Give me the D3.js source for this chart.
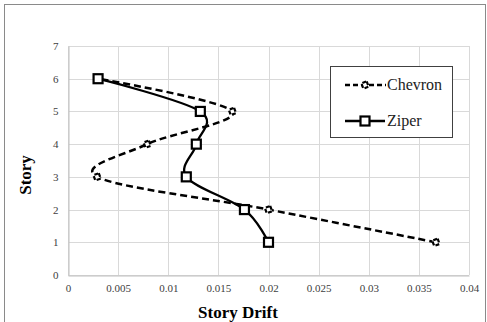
<!DOCTYPE html>
<html><head><meta charset="utf-8">
<script src="https://cdn.jsdelivr.net/npm/d3@7"></script>
<style>body{margin:0;background:#fff}svg{display:block}</style>
</head><body>
<script>
const stories = [1, 2, 3, 4, 5, 6];
const chevron = [0.0367, 0.0200, 0.0029, 0.0079, 0.0164, 0.0030];
const ziper = [0.0200, 0.0176, 0.0118, 0.0128, 0.0132, 0.0030];
const xTicks = [0, 0.005, 0.01, 0.015, 0.02, 0.025, 0.03, 0.035, 0.04];
const yTicks = [0, 1, 2, 3, 4, 5, 6, 7];
const seriesNames = ["Chevron", "Ziper"];

const W = 487, H = 322;
const svg = d3.select("body").append("svg").attr("width", W).attr("height", H);
svg.append("rect").attr("x", 4.5).attr("y", 4.5).attr("width", 481).attr("height", 330)
  .attr("fill", "#fff").attr("stroke", "#8a8a8a").attr("stroke-width", 1);

const x = d3.scaleLinear().domain([0, 0.04]).range([68, 469]);
const y = d3.scaleLinear().domain([0, 7]).range([275, 46]);
const font = "'Liberation Serif', 'Times New Roman', serif";

// grid
svg.append("g").selectAll("line").data(xTicks).join("line")
  .attr("x1", d => Math.round(x(d)) + 0.5).attr("x2", d => Math.round(x(d)) + 0.5)
  .attr("y1", y(7)).attr("y2", y(0)).attr("stroke", "#d9d9d9");
svg.append("g").selectAll("line").data(yTicks).join("line")
  .attr("y1", d => Math.round(y(d)) + 0.5).attr("y2", d => Math.round(y(d)) + 0.5)
  .attr("x1", x(0)).attr("x2", x(0.04)).attr("stroke", "#d9d9d9");

// axes
const xAxis = svg.append("g").attr("transform", `translate(0,${Math.round(y(0)) + 0.5})`)
  .call(d3.axisBottom(x).tickValues(xTicks).tickSize(0).tickPadding(9).tickFormat(d => String(+d.toFixed(3))));
xAxis.select(".domain").attr("stroke", "#bfbfbf");
xAxis.selectAll("text").attr("font-family", font).attr("font-size", 11).attr("fill", "#404040");
const yAxis = svg.append("g").attr("transform", `translate(${Math.round(x(0)) + 0.5},0)`)
  .call(d3.axisLeft(y).tickValues(yTicks).tickSize(0).tickPadding(10).tickFormat(d3.format("d")));
yAxis.select(".domain").attr("stroke", "#bfbfbf");
yAxis.selectAll("text").attr("font-family", font).attr("font-size", 11).attr("fill", "#404040");

// lines
const curve = d3.curveCardinal.tension(0);
const lineC = d3.line().x(d => x(d[0])).y(d => y(d[1])).curve(curve);
const cData = stories.map((s, i) => [chevron[i], s]);
const zData = stories.map((s, i) => [ziper[i], s]);

svg.append("path").attr("d", lineC(cData)).attr("fill", "none").attr("stroke", "#000")
  .attr("stroke-width", 2.5).attr("stroke-dasharray", "7,4");
svg.append("path").attr("d", lineC(zData)).attr("fill", "none").attr("stroke", "#000")
  .attr("stroke-width", 2.3);

const diamond = (cx, cy, g) => g.append("path")
  .attr("d", `M${cx},${cy - 4}L${cx + 4},${cy}L${cx},${cy + 4}L${cx - 4},${cy}Z`)
  .attr("fill", "#fff").attr("stroke", "#000").attr("stroke-width", 2.2).attr("stroke-dasharray", "4,2")
  .attr("transform", `rotate(25,${cx},${cy})`);
const square = (cx, cy, g) => g.append("rect").attr("x", cx - 4.5).attr("y", cy - 4.5)
  .attr("width", 9).attr("height", 9).attr("fill", "#fff").attr("stroke", "#000").attr("stroke-width", 2.2);

const gm = svg.append("g");
cData.forEach(d => diamond(x(d[0]), y(d[1]), gm));
zData.forEach(d => square(x(d[0]), y(d[1]), gm));

// legend
const lg = svg.append("g");
lg.append("rect").attr("x", 330.5).attr("y", 66.5).attr("width", 122).attr("height", 71)
  .attr("fill", "#fff").attr("stroke", "#404040").attr("stroke-width", 1);
lg.append("line").attr("x1", 345).attr("x2", 386).attr("y1", 85).attr("y2", 85)
  .attr("stroke", "#000").attr("stroke-width", 2.5).attr("stroke-dasharray", "5,3");
diamond(365, 85, lg);
lg.append("line").attr("x1", 345).attr("x2", 385).attr("y1", 121).attr("y2", 121)
  .attr("stroke", "#000").attr("stroke-width", 2.3);
square(365, 121, lg);
lg.selectAll("text.leg").data(seriesNames).join("text").attr("class", "leg")
  .attr("x", 387).attr("y", (d, i) => i === 0 ? 90 : 126)
  .attr("font-family", font).attr("font-size", 16).attr("fill", "#222").text(d => d);

// axis titles
svg.append("text").attr("x", 238).attr("y", 318).attr("text-anchor", "middle")
  .attr("font-family", font).attr("font-size", 17).attr("font-weight", "bold").text("Story Drift");
svg.append("text").attr("transform", "translate(31,175) rotate(-90)").attr("text-anchor", "middle")
  .attr("font-family", font).attr("font-size", 17).attr("font-weight", "bold").text("Story");
</script>
</body></html>
